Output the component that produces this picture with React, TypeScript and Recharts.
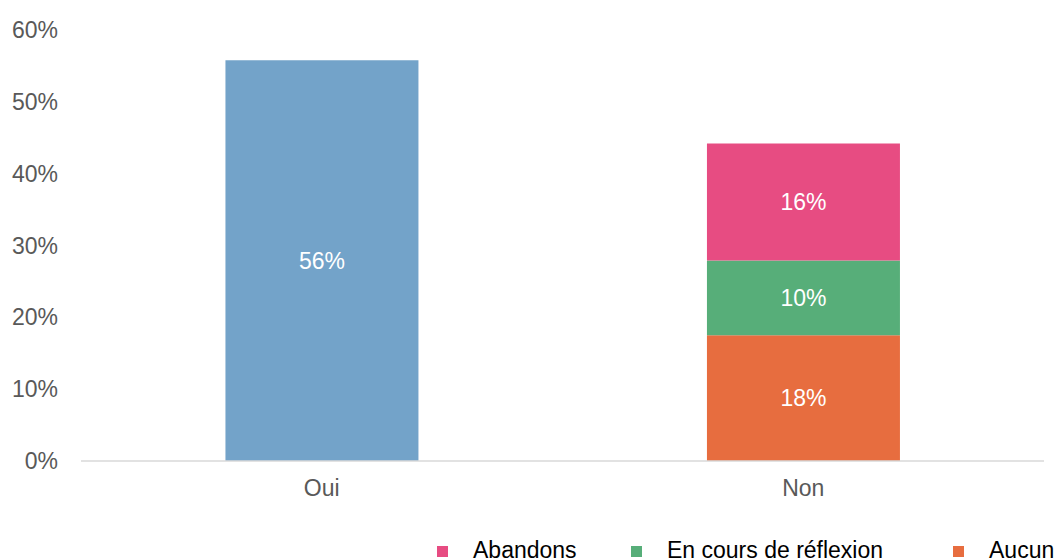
import { Bar, BarChart, LabelList, Legend, XAxis, YAxis } from "recharts";

const CATEGORIES = ["Oui", "Non"];
const OUI = [55.8, null];
const AUCUN = [null, 17.5];
const EN_COURS = [null, 10.4];
const ABANDONS = [null, 16.3];
const Y_TICKS = [0, 10, 20, 30, 40, 50, 60];

const LEGEND_ITEMS = [
  { label: "Abandons", color: "#E74C82", width: 194 },
  { label: "En cours de réflexion", color: "#57AE79", width: 322 },
  { label: "Aucun", color: "#E76D3F", width: 200 },
];

const data = CATEGORIES.map((name, i) => ({
  name,
  oui: OUI[i],
  aucun: AUCUN[i],
  enCours: EN_COURS[i],
  abandons: ABANDONS[i],
}));

const FONT = "'Liberation Sans', Arial, sans-serif";
const FS = 23;

const pct = (v: any) => (v == null || v === 0 ? "" : `${Math.round(v)}%`);

function LegendRow() {
  return (
    <div
      style={{
        display: "flex",
        paddingLeft: 437,
        height: 24,
        alignItems: "center",
        fontFamily: FONT,
        fontSize: FS,
        color: "#000",
        whiteSpace: "nowrap",
      }}
    >
      {LEGEND_ITEMS.map((it) => (
        <div
          key={it.label}
          style={{ display: "flex", alignItems: "center", width: it.width, flex: "none" }}
        >
          <span
            style={{
              width: 11,
              height: 11,
              background: it.color,
              marginRight: 25,
              marginTop: 3,
              display: "inline-block",
            }}
          />
          <span>{it.label}</span>
        </div>
      ))}
    </div>
  );
}

export default function App() {
  return (
    <div
      style={{
        position: "absolute",
        left: 0,
        top: 0,
        width: 1056,
        height: 560,
        overflow: "hidden",
        background: "#fff",
      }}
    >
      <BarChart
        width={1056}
        height={560}
        data={data}
        margin={{ top: 30, right: 12, left: 0, bottom: 0 }}
        barCategoryGap="30%"
      >
        <XAxis
          dataKey="name"
          height={75}
          tickLine={false}
          axisLine={{ stroke: "#D9D9D9", strokeWidth: 1.5 }}
          tickSize={0}
          tickMargin={19}
          tick={{ fontSize: FS, fill: "#595959", fontFamily: FONT }}
        />
        <YAxis
          width={81}
          domain={[0, 60]}
          ticks={Y_TICKS}
          tickFormatter={(v) => `${v}%`}
          axisLine={false}
          tickLine={false}
          tickSize={0}
          tickMargin={23}
          tick={{ fontSize: FS, fill: "#595959", fontFamily: FONT }}
        />
        <Legend
          verticalAlign="bottom"
          content={() => <LegendRow />}
          wrapperStyle={{ left: 0, width: 1056, bottom: -2 }}
        />
        <Bar dataKey="oui" stackId="a" fill="#73A3C9" isAnimationActive={false}>
          <LabelList dataKey="oui" position="center" formatter={pct} fill="#fff" fontSize={FS} fontFamily={FONT} />
        </Bar>
        <Bar dataKey="aucun" stackId="a" fill="#E76D3F" isAnimationActive={false}>
          <LabelList dataKey="aucun" position="center" formatter={pct} fill="#fff" fontSize={FS} fontFamily={FONT} />
        </Bar>
        <Bar dataKey="enCours" stackId="a" fill="#57AE79" isAnimationActive={false}>
          <LabelList dataKey="enCours" position="center" formatter={pct} fill="#fff" fontSize={FS} fontFamily={FONT} />
        </Bar>
        <Bar dataKey="abandons" stackId="a" fill="#E74C82" isAnimationActive={false}>
          <LabelList dataKey="abandons" position="center" formatter={pct} fill="#fff" fontSize={FS} fontFamily={FONT} />
        </Bar>
      </BarChart>
    </div>
  );
}
